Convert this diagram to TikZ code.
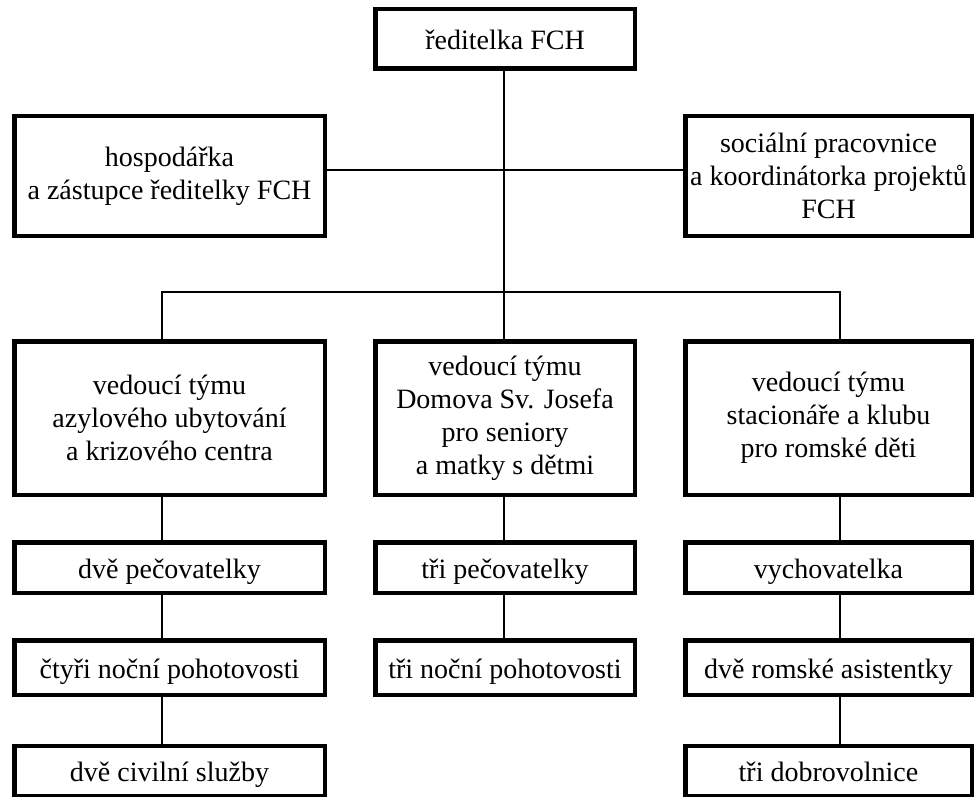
\documentclass[tikz,border=0pt]{standalone}
\usepackage{fontspec}
\setmainfont{Liberation Serif}
\usepackage{tikz}

\begin{document}
\begin{tikzpicture}[x=1pt, y=-1pt,
    box/.style={draw, line width=4.5pt, align=center, inner sep=0pt,
      font=\fontsize{28}{33}\selectfont},
    oneline/.style={box, text height=24pt, text depth=3pt},
    link/.style={line width=2pt}]
                  \useasboundingbox (0,0) rectangle (975,797);

                  % Define coordinates
                  \coordinate (hub) at (504,170);
                  \coordinate (busL) at (162,292);
                  \coordinate (busM) at (504,292);
                  \coordinate (busR) at (840,292);

                  % Head and staff
                  \node[oneline, minimum width=259.5pt, minimum height=59.5pt] (top) at (505,39) {ředitelka FCH};
                  \node[box, minimum width=310.5pt, minimum height=119.5pt] (hosp) at (169.5,176) {hospodářka\\a zástupce ředitelky FCH};
                  \node[box, minimum width=286.5pt, minimum height=119.5pt] (soc) at (828.5,176) {sociální pracovnice\\a koordinátorka projektů\\FCH};

                  % Team leaders
                  \node[box, minimum width=310.5pt, minimum height=153.5pt] (vedA) at (169.5,418) {vedoucí týmu\\azylového ubytování\\a krizového centra};
                  \node[box, minimum width=259.5pt, minimum height=153.5pt] (vedB) at (505,418) {vedoucí týmu\\Domova Sv. Josefa\\pro seniory\\a matky s dětmi};
                  \node[box, minimum width=286.5pt, minimum height=153.5pt] (vedC) at (828.5,418) {vedoucí týmu\\stacionáře a klubu\\pro romské děti};

                  % Left column
                  \node[oneline, minimum width=310.5pt, minimum height=50.5pt] (pecA) at (169.5,567.5) {dvě pečovatelky};
                  \node[oneline, minimum width=310.5pt, minimum height=54.5pt] (nocA) at (169.5,667.5) {čtyři noční pohotovosti};
                  \node[oneline, minimum width=310.5pt, minimum height=50.5pt] (civA) at (169.5,771) {dvě civilní služby};

                  % Middle column
                  \node[oneline, minimum width=259.5pt, minimum height=50.5pt] (pecB) at (505,567.5) {tři pečovatelky};
                  \node[oneline, minimum width=259.5pt, minimum height=54.5pt] (nocB) at (505,667.5) {tři noční pohotovosti};

                  % Right column
                  \node[oneline, minimum width=286.5pt, minimum height=50.5pt] (vychC) at (828.5,567.5) {vychovatelka};
                  \node[oneline, minimum width=286.5pt, minimum height=54.5pt] (asiC) at (828.5,667.5) {dvě romské asistentky};
                  \node[oneline, minimum width=286.5pt, minimum height=50.5pt] (dobC) at (828.5,771) {tři dobrovolnice};

                  % Trunk and bus
                  \draw[link] (top.south -| busM) -- (busM);
                  \draw[link] (hosp.east |- hub) -- (soc.west |- hub);
                  \draw[link] (busL |- vedA.north) -- (busL) -- (busR) -- (busR |- vedC.north);
                  \draw[link] (busM) -- (busM |- vedB.north);

                  % Drops in each column
                  \foreach \a/\b in {vedA/pecA, pecA/nocA, nocA/civA}
                    \draw[link] (busL |- \a.south) -- (busL |- \b.north);
                  \foreach \a/\b in {vedB/pecB, pecB/nocB}
                    \draw[link] (busM |- \a.south) -- (busM |- \b.north);
                  \foreach \a/\b in {vedC/vychC, vychC/asiC, asiC/dobC}
                    \draw[link] (busR |- \a.south) -- (busR |- \b.north);

              \end{tikzpicture}
\end{document}
